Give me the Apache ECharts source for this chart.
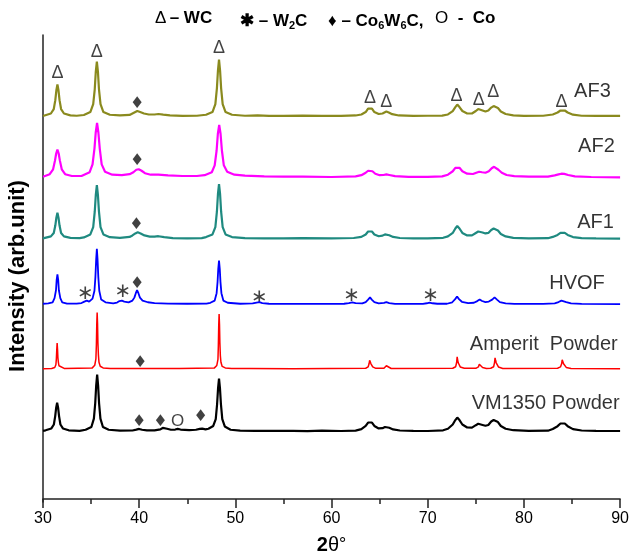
<!DOCTYPE html>
<html>
<head>
<meta charset="utf-8">
<script src="https://cdn.jsdelivr.net/npm/echarts@6/dist/echarts.min.js"></script>
<style>
  html, body { margin: 0; padding: 0; background: #fff; }
  #chart { width: 632px; height: 560px; }
</style>
</head>
<body>
<div id="chart"></div>
<script>
// stacked XRD patterns, 2theta vs intensity (arb. units)
const traceNames = ['AF3', 'AF2', 'AF1', 'HVOF', 'Amperit  Powder', 'VM1350 Powder']
const traceColors = ['#8a8a1e', '#ff00ff', '#1f8a80', '#0000ff', '#ff0000', '#000000']
const traceWidths = [2.2, 2.2, 2.2, 1.8, 1.5, 2.2]
const traceOffsets = [387, 325, 263, 197, 132, 68]
const labelX = [89.08, 89.5, 89.4, 88.46, 89.8, 90]
const labelRise = [26, 32, 17, 21, 25, 29]

const af3 = [
  [30, 1], [30.2, 1.5], [30.82, 3.5], [31.12, 8], [31.28, 17], [31.39, 27], [31.5, 33], [31.61, 27], [31.72, 17],
  [31.88, 8], [32.18, 3.5], [32.85, 1.6], [33.5, 1.2], [34.25, 2], [34.92, 5], [35.22, 13], [35.38, 28], [35.49, 46],
  [35.6, 56], [35.71, 46], [35.82, 28], [35.98, 13], [36.28, 5], [36.95, 2.2], [38, 1.5], [39, 2], [39.2, 3],
  [39.5, 4.5], [39.8, 6], [40.1, 5], [40.5, 3.5], [41.0, 2.5], [41.6, 2.5], [42.0, 3], [42.5, 2.3], [43.2, 1.5],
  [44.5, 1], [46, 1.2], [46.95, 2.2], [47.62, 5], [47.92, 13], [48.08, 29], [48.19, 47], [48.3, 58], [48.41, 47],
  [48.52, 29], [48.68, 13], [48.98, 5], [49.65, 2.2], [51, 1.2], [52.3, 1.6], [53.5, 1], [55, 1], [57, 1.3],
  [59, 1], [61, 1], [62.5, 1.5], [63.1, 2.5], [63.55, 5], [63.8, 8.5], [64.0, 10.5], [64.2, 8.5], [64.45, 5],
  [64.9, 3], [65.3, 3.5], [65.5, 5], [65.7, 5.5], [65.95, 4.5], [66.3, 2.8], [67, 1.5], [68.5, 1], [70, 1.2],
  [71.5, 1.3], [72.1, 2.5], [72.6, 6], [72.87, 10], [73.07, 12.5], [73.3, 10], [73.6, 6], [74.1, 3.5], [74.6, 3.5],
  [75.0, 6], [75.25, 8], [75.45, 8.5], [75.7, 6.5], [76.0, 5.5], [76.3, 6.5], [76.6, 9.5], [76.85, 11], [77.05, 11.5],
  [77.3, 9], [77.6, 5.5], [78.1, 3], [78.9, 1.6], [80, 1], [82, 1.2], [83.0, 2.5], [83.5, 4.5], [83.8, 6.5],
  [84.0, 7.5], [84.25, 6.5], [84.55, 4.5], [85.1, 2.3], [86, 1.2], [87.5, 1], [90, 1]
]
const af2 = [
  [30, 1.5], [30.7, 4], [31.05, 9], [31.25, 18], [31.37, 25], [31.5, 29], [31.63, 25], [31.75, 18], [31.95, 9],
  [32.3, 4], [33.0, 2.2], [34.0, 2.2], [34.1, 3], [34.85, 6], [35.15, 14], [35.35, 30], [35.48, 46], [35.62, 56],
  [35.76, 46], [35.9, 30], [36.1, 14], [36.45, 6.5], [37.2, 3.5], [38.2, 3], [39.0, 4], [39.4, 6], [39.7, 8.5],
  [39.95, 9], [40.25, 7.5], [40.6, 5], [41.2, 3.5], [42.0, 3.5], [43, 2.8], [44.5, 2.2], [46, 2.2], [46.8, 3],
  [47.55, 6], [47.85, 13], [48.05, 28], [48.18, 45], [48.32, 54], [48.46, 45], [48.6, 28], [48.8, 13], [49.15, 6.5],
  [49.9, 3.5], [51, 2.5], [53, 1.8], [55, 1.5], [57, 1.6], [60, 1.2], [62.5, 1.8], [63.1, 3], [63.55, 5.5],
  [63.8, 7.5], [64.0, 8.5], [64.25, 7], [64.55, 4.5], [65.0, 3], [65.4, 3.2], [65.7, 3.8], [66.0, 3.2], [66.6, 2],
  [68, 1.3], [70, 1.3], [71.5, 1.8], [72.1, 3.5], [72.6, 7], [72.87, 10.5], [73.07, 12.5], [73.3, 10.5], [73.6, 7],
  [74.1, 4.5], [74.7, 4.2], [75.05, 5.5], [75.35, 6.5], [75.65, 6], [76.0, 5.5], [76.35, 7], [76.65, 10], [76.9, 11.5],
  [77.1, 11], [77.35, 8.5], [77.7, 5.5], [78.2, 3.2], [79, 2], [80.5, 1.5], [82.5, 1.6], [83.2, 2.8], [83.6, 3.8],
  [83.9, 4.5], [84.2, 4.3], [84.6, 3.2], [85.3, 1.8], [87, 1.2], [90, 0.8]
]
const af1 = [
  [30, 1], [30.2, 1.3], [30.82, 3], [31.12, 6.5], [31.28, 14], [31.39, 22], [31.5, 27], [31.61, 22], [31.72, 14],
  [31.88, 6.5], [32.18, 3], [32.85, 1.5], [33.8, 1.3], [34.25, 2], [34.92, 5], [35.22, 12.5], [35.38, 28], [35.49, 45],
  [35.6, 55], [35.71, 45], [35.82, 28], [35.98, 12.5], [36.28, 5], [36.95, 2.2], [38, 1.6], [39, 2.5], [39.3, 4],
  [39.6, 6], [39.85, 7.2], [40.15, 6], [40.55, 4], [41.1, 2.8], [41.6, 2.8], [42.0, 3.2], [42.6, 2.2], [43.5, 1.3],
  [45, 1.1], [46.5, 1.3], [46.95, 2.3], [47.62, 5], [47.92, 12.5], [48.08, 28], [48.19, 46], [48.3, 56], [48.41, 46],
  [48.52, 28], [48.68, 12.5], [48.98, 5], [49.65, 2.3], [51, 1.3], [53, 1.1], [55, 1.1], [57, 1.3], [60, 1],
  [62.3, 1.4], [63.1, 2.5], [63.55, 5], [63.8, 8], [64.0, 9.5], [64.2, 8], [64.45, 5], [64.9, 3.2], [65.3, 3.8],
  [65.55, 5], [65.75, 5.2], [66.0, 4.2], [66.4, 2.5], [67.1, 1.4], [68.5, 1], [70, 1.1], [71.6, 1.6], [72.1, 3],
  [72.6, 6.5], [72.87, 11], [73.07, 13.5], [73.3, 11], [73.6, 6.5], [74.1, 4], [74.6, 4], [75.0, 6.5], [75.25, 8],
  [75.45, 8.5], [75.7, 7], [76.0, 6], [76.3, 6.5], [76.6, 9.5], [76.85, 11], [77.05, 11.5], [77.3, 9], [77.6, 5.5],
  [78.1, 3], [78.9, 1.6], [80.5, 1], [82.5, 1.2], [83.0, 2.5], [83.5, 4.5], [83.8, 6.5], [84.0, 7.5], [84.25, 6.5],
  [84.55, 4.5], [85.1, 2.3], [86, 1.2], [87.5, 1], [90, 0.8]
]
const hvof = [
  [30, 0.8], [30.55, 1.2], [31.0, 2.3], [31.2, 6.5], [31.35, 14.5], [31.42, 25], [31.5, 30.5], [31.58, 25],
  [31.65, 14.5], [31.8, 6.5], [32.0, 2.3], [32.5, 1], [33.5, 0.9], [34.0, 1.5], [34.3, 3], [34.55, 4], [34.8, 3],
  [35.0, 3], [35.15, 6], [35.35, 14], [35.45, 28], [35.53, 46], [35.6, 56.5], [35.67, 46], [35.75, 28], [35.85, 14],
  [36.05, 5], [36.5, 2.2], [37.3, 1.2], [37.7, 2], [37.95, 3.5], [38.2, 4], [38.45, 3], [38.9, 2.2], [39.3, 4],
  [39.5, 7], [39.65, 11.5], [39.78, 14.5], [39.92, 11.5], [40.08, 7], [40.35, 4], [40.9, 2.3], [41.6, 1.5], [43, 1],
  [45, 0.8], [47, 1], [47.4, 1.8], [47.85, 4], [48.05, 11.5], [48.15, 23], [48.22, 36], [48.3, 44.5], [48.38, 36],
  [48.45, 23], [48.55, 11.5], [48.75, 4], [49.2, 1.8], [50.5, 0.8], [51.8, 1.1], [52.2, 2], [52.5, 2.4], [52.8, 1.5],
  [53.5, 0.8], [56, 0.7], [59, 0.6], [61.3, 0.8], [61.8, 1.4], [62.15, 2.2], [62.5, 1.4], [63.2, 1.2], [63.55, 2.5],
  [63.8, 5], [64.0, 7.2], [64.18, 5], [64.45, 2.5], [64.9, 1.2], [65.45, 1.6], [65.7, 2.4], [66.0, 1.5], [66.6, 0.7],
  [69.5, 0.7], [69.9, 1.3], [70.2, 2], [70.5, 1.3], [71, 0.8], [72, 0.8], [72.55, 2.3], [72.85, 5.5], [73.05, 8.2],
  [73.25, 5.5], [73.55, 2.8], [74.2, 1.5], [74.8, 1.8], [75.15, 3.5], [75.4, 5.2], [75.65, 3.6], [76.0, 2.5],
  [76.35, 3], [76.7, 5], [76.95, 7.2], [77.2, 5], [77.5, 2.5], [78.1, 1.1], [79, 0.6], [82, 0.6], [83.2, 1.2],
  [83.6, 2.5], [83.9, 4], [84.1, 4], [84.4, 2.5], [84.9, 1.2], [86, 0.6], [90, 0.5]
]
const amperit = [
  [30, 0], [30.9, 0.3], [31.22, 1.3], [31.34, 4], [31.39, 10], [31.43, 19], [31.47, 26], [31.51, 20], [31.55, 11],
  [31.6, 6.5], [31.66, 3], [31.8, 1], [32.2, 0.3], [35.1, 0.6], [35.38, 3.5], [35.5, 10], [35.55, 24], [35.59, 45],
  [35.63, 57], [35.67, 46], [35.71, 26], [35.76, 14], [35.82, 6.5], [35.95, 2.5], [36.25, 0.8], [37, 0.3], [40, 0.2],
  [42.55, 0.3], [42.75, 1.5], [42.95, 0.3], [43.8, 0.3], [44.0, 1.8], [44.2, 0.3], [47.8, 0.6], [48.07, 3.3],
  [48.19, 9.5], [48.23, 23], [48.27, 44], [48.31, 55.5], [48.35, 45], [48.39, 26], [48.44, 13], [48.5, 6.5],
  [48.63, 2.3], [48.95, 0.8], [49.6, 0.3], [51.1, 0.2], [51.3, 0.8], [51.5, 0.2], [56, 0], [63.55, 0.5], [63.8, 1.8],
  [63.9, 5], [63.96, 8.5], [64.0, 10], [64.05, 7.5], [64.1, 5], [64.16, 4], [64.28, 1.8], [64.6, 0.4], [65.45, 0.4],
  [65.62, 1.8], [65.7, 3], [65.78, 2], [65.9, 1], [66.2, 0.2], [72.6, 0.5], [72.9, 2], [73.0, 6], [73.06, 12],
  [73.11, 9], [73.17, 6], [73.24, 4.5], [73.38, 1.8], [73.8, 0.4], [75.0, 0.4], [75.27, 1.8], [75.36, 4.5], [75.42, 6],
  [75.48, 4], [75.56, 3], [75.7, 1.2], [76.1, 0.3], [76.55, 0.5], [76.85, 2], [76.94, 6], [77.0, 11], [77.05, 8.5],
  [77.12, 6], [77.2, 4.3], [77.35, 1.8], [77.8, 0.3], [83.5, 0.5], [83.8, 1.8], [83.92, 5], [83.98, 9], [84.04, 7],
  [84.12, 5], [84.22, 3.5], [84.4, 1.3], [84.9, 0.3], [90, 0]
]
const vm1350 = [
  [30, 1], [30.27, 1.6], [30.87, 3.5], [31.13, 7.5], [31.27, 16], [31.37, 24.5], [31.47, 29.5], [31.57, 24.5],
  [31.67, 16], [31.81, 7.5], [32.07, 3.5], [32.67, 1.6], [33.8, 1.1], [34.43, 2.2], [35.03, 5], [35.29, 13.5],
  [35.43, 29], [35.53, 47], [35.63, 58], [35.73, 47], [35.83, 29], [35.97, 13.5], [36.23, 5], [36.83, 2.2], [38, 1.2],
  [39.3, 1.4], [39.7, 2.3], [40.0, 3], [40.3, 2.2], [40.8, 1.5], [41.6, 1.6], [42.2, 2.5], [42.45, 4], [42.65, 4.5],
  [42.9, 3.2], [43.3, 2.2], [43.75, 2.4], [44.0, 3], [44.3, 2.4], [45.2, 1.8], [45.9, 2.2], [46.3, 3], [46.55, 3.3],
  [46.9, 2.6], [47.2, 3.2], [47.7, 6], [47.96, 13], [48.1, 28], [48.2, 44], [48.3, 54], [48.4, 44], [48.5, 28],
  [48.64, 13], [48.9, 5.5], [49.5, 2.2], [50.5, 1.3], [52, 1], [54, 1], [56, 1], [57.5, 0.8], [59, 1.3], [61, 0.9],
  [62.5, 1.3], [63.1, 2.8], [63.55, 6], [63.8, 9.5], [64.0, 11.5], [64.2, 9.5], [64.45, 6], [64.9, 3.5], [65.3, 3.8],
  [65.55, 5], [65.75, 5.3], [66.0, 4.2], [66.4, 2.5], [67.1, 1.4], [68.5, 1], [70, 0.9], [71.6, 1.6], [72.1, 3.2],
  [72.6, 7.5], [72.87, 12], [73.07, 14.5], [73.3, 12], [73.6, 7.5], [74.1, 4.5], [74.6, 4.3], [75.0, 6.8],
  [75.25, 8.2], [75.45, 8.5], [75.7, 7], [76.0, 6.2], [76.3, 7], [76.6, 10.5], [76.85, 12], [77.05, 12.5], [77.3, 10],
  [77.6, 6], [78.1, 3.2], [78.9, 1.7], [80.5, 1], [82.5, 1.2], [83.0, 3], [83.5, 5.8], [83.8, 8.5], [84.0, 9.5],
  [84.25, 8.5], [84.55, 5.8], [85.1, 2.8], [86, 1.4], [87.5, 1], [90, 0.9]
]
const traces = [af3, af2, af1, hvof, amperit, vm1350]

// phase markers, [2theta, height on the stacked scale]
const wcMarks = [[31.5, 431], [35.6, 453], [48.3, 457], [64.0, 406], [65.7, 402], [73.0, 408], [75.3, 404], [76.8, 412], [83.9, 402]]
const w2cMarks = [[34.4, 208], [38.3, 210], [52.5, 204], [62.1, 206], [70.3, 206]]
const co6w6cMarks = [[39.8, 400], [39.8, 343], [39.7, 278], [39.8, 218], [40.1, 138], [40.0, 78], [42.2, 78], [46.4, 83]]
const coMarks = [[44.0, 79]]

const chart = echarts.init(document.getElementById('chart'), null, { renderer: 'canvas' })

const series = traces.map((d, i) => ({
  type: 'line',
  name: traceNames[i],
  data: d.map(p => [p[0], p[1] + traceOffsets[i]]),
  symbol: 'none',
  silent: true,
  lineStyle: { color: traceColors[i], width: traceWidths[i] }
}))

series.push({
  type: 'scatter',
  symbolSize: 1,
  silent: true,
  itemStyle: { color: 'rgba(0,0,0,0)' },
  data: traceNames.map((n, i) => ({ name: n, value: [labelX[i], traceOffsets[i] + labelRise[i]] })),
  label: {
    show: true, position: 'left', distance: 0, formatter: p => p.name,
    fontFamily: 'Liberation Sans', fontSize: 20, color: '#000'
  }
})

function markSeries(marks, ch, font, size) {
  return {
    type: 'scatter',
    symbolSize: 1,
    silent: true,
    itemStyle: { color: 'rgba(0,0,0,0)' },
    data: marks,
    label: {
      show: true, position: 'inside', formatter: ch,
      fontFamily: font, fontSize: size, color: '#111'
    }
  }
}
series.push(markSeries(wcMarks, 'Δ', 'Liberation Sans', 18))
series.push(markSeries(w2cMarks, '∗', 'DejaVu Sans', 20))
series.push(markSeries(co6w6cMarks, '♦', 'DejaVu Sans', 16))
series.push(markSeries(coMarks, 'O', 'Liberation Sans', 17))

// legend of phases at the top
const headRich = {
  n: { fontFamily: 'Liberation Sans', fontWeight: 'bold', fontSize: 17, lineHeight: 22, fill: '#000' },
  d: { fontFamily: 'Liberation Sans', fontSize: 17, lineHeight: 22, fill: '#000' },
  s: { fontFamily: 'Liberation Sans', fontWeight: 'bold', fontSize: 11, lineHeight: 22, verticalAlign: 'top', padding: [10, 0, 0, 0], fill: '#000' }
}
const headParts = [
  [155, '{d|Δ} {n|– WC}'],
  [240, '{n|✱ – W}{s|2}{n|C}'],
  [328, '{n|♦ – Co}{s|6}{n|W}{s|6}{n|C,}'],
  [435, '{d|O}{n|  -  Co}']
]

chart.setOption({
  animation: false,
  backgroundColor: '#fff',
  grid: { left: 43, right: 10, top: 35, bottom: 52 },
  xAxis: {
    type: 'value', min: 30, max: 90, interval: 10,
    name: '{a|2}{b|θ}{c|°}', nameLocation: 'middle', nameGap: 33,
    nameTextStyle: {
      rich: {
        a: { fontFamily: 'Liberation Sans', fontWeight: 'bold', fontSize: 20, color: '#000' },
        b: { fontFamily: 'Liberation Sans', fontSize: 20, color: '#000' },
        c: { fontFamily: 'Liberation Sans', fontSize: 18, color: '#000' }
      }
    },
    axisLine: { lineStyle: { color: '#222', width: 1.5 } },
    axisTick: { length: 9, lineStyle: { color: '#222', width: 1.5 } },
    minorTick: { show: true, splitNumber: 2, length: 5, lineStyle: { color: '#222', width: 1.5 } },
    axisLabel: { fontFamily: 'Liberation Sans', fontSize: 16, color: '#000', margin: 9 },
    splitLine: { show: false }
  },
  yAxis: {
    type: 'value', min: -3, max: 470,
    axisLine: { show: true, lineStyle: { color: '#222', width: 1.5 } },
    axisTick: { show: false },
    axisLabel: { show: false },
    splitLine: { show: false }
  },
  graphic: headParts.map(p => ({
    type: 'text', left: p[0], top: 10,
    style: { text: p[1], rich: headRich }
  })).concat([{
    type: 'text', x: 18, y: 276, rotation: Math.PI / 2,
    style: {
      text: 'Intensity (arb.unit)', align: 'center', verticalAlign: 'middle',
      fontFamily: 'Liberation Sans', fontWeight: 'bold', fontSize: 22, fill: '#000'
    }
  }]),
  series
})
</script>
</body>
</html>
